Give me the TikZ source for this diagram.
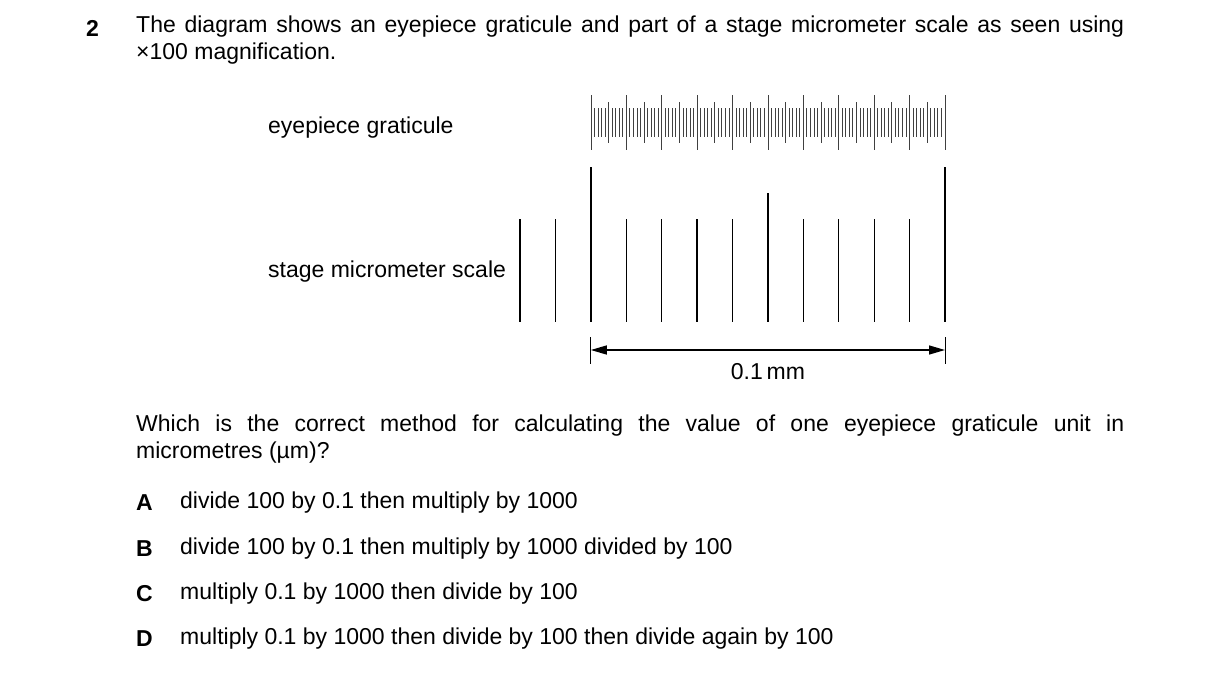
\documentclass[tikz,border=0pt]{standalone}
\usepackage{fontspec}
\setmainfont{Liberation Sans}
\usetikzlibrary{arrows.meta,positioning}
\tikzset{
  qtext/.style={anchor=west,inner sep=0pt,font=\fontsize{23}{27}\selectfont},
  para/.style={anchor=north west,inner sep=0pt,text width=988pt,align=justify,font=\fontsize{23}{27}\selectfont},
  gtick/.style={line width=1pt,black!75},
  stick/.style={line width=1.4pt},
}
\begin{document}
\begin{tikzpicture}[x=1pt,y=-1pt]
\useasboundingbox (0,0) rectangle (1216,675);

% question
\node[qtext,font=\fontsize{23}{27}\selectfont\bfseries] (num) at (86,28) {2};
\node[para] (intro) at (136,16) {The diagram shows an eyepiece graticule and part of a stage micrometer scale as seen using\linebreak ×100 magnification.};

% labels
\node[qtext] (lgrat) at (268,128) {eyepiece graticule};
\node[qtext] (lstage) at (268,272) {stage micrometer scale};

% eyepiece graticule
\foreach \i in {0,...,100}{
  \pgfmathsetmacro{\gx}{591+3.54*\i}
  \pgfmathtruncatemacro{\ma}{mod(\i,10)}
  \pgfmathtruncatemacro{\mb}{mod(\i,5)}
  \ifnum\ma=0 \draw[gtick] (\gx,95) -- (\gx,150);
  \else\ifnum\mb=0 \draw[gtick] (\gx,102) -- (\gx,143);
  \else \draw[gtick] (\gx,108) -- (\gx,137);
  \fi\fi
}

% stage micrometer scale
\foreach \j in {0,...,12}{
  \pgfmathsetmacro{\sx}{520+35.42*\j}
  \ifnum\j=2 \draw[stick] (\sx,167) -- (\sx,322);
  \else\ifnum\j=12 \draw[stick] (\sx,167) -- (\sx,322);
  \else\ifnum\j=7 \draw[stick] (\sx,193) -- (\sx,322);
  \else \draw[stick] (\sx,219) -- (\sx,322);
  \fi\fi\fi
}

% 0.1 mm dimension
\coordinate (dl) at (590.8,350);
\coordinate (dr) at (945,350);
\draw[line width=0.8pt] (590.8,337) -- (590.8,364);
\draw[line width=0.8pt] (945,337) -- (945,364);
\draw[line width=1.4pt,{Triangle[length=16pt,width=9pt]}-{Triangle[length=16pt,width=9pt]}] (dl) -- (dr);
\node[qtext,anchor=center] (dim) at (768,372) {0.1\,mm};

% question part 2
\node[para] (ask) at (136,415) {Which is the correct method for calculating the value of one eyepiece graticule unit in\linebreak micrometres (µm)?};

% options
\node[qtext,font=\fontsize{23}{27}\selectfont\bfseries] (ka) at (136,503) {A};
\node[qtext] (ta) at (180,503) {divide 100 by 0.1 then multiply by 1000};
\node[qtext,font=\fontsize{23}{27}\selectfont\bfseries] (kb) at (136,549) {B};
\node[qtext] (tb) at (180,549) {divide 100 by 0.1 then multiply by 1000 divided by 100};
\node[qtext,font=\fontsize{23}{27}\selectfont\bfseries] (kc) at (136,594) {C};
\node[qtext] (tc) at (180,594) {multiply 0.1 by 1000 then divide by 100};
\node[qtext,font=\fontsize{23}{27}\selectfont\bfseries] (kd) at (136,639) {D};
\node[qtext] (td) at (180,639) {multiply 0.1 by 1000 then divide by 100 then divide again by 100};
\end{tikzpicture}
\end{document}
